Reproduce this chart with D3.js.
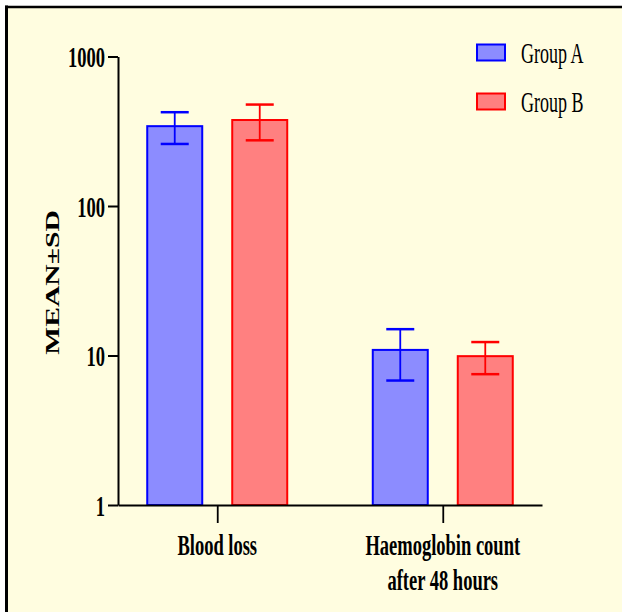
<!DOCTYPE html>
<html>
<head>
<meta charset="utf-8">
<script src="https://cdn.jsdelivr.net/npm/d3@7"></script>
<style>
  html, body { margin: 0; padding: 0; background: #ffffff; }
  svg { display: block; }
</style>
</head>
<body>
<svg id="chart" width="622" height="612"></svg>
<script>
// ---- data ----
const categories = ["Blood loss", "Haemoglobin count\nafter 48 hours"];
const groups = ["Group A", "Group B"];
const meansA = [342, 10.9];
const sdA = [82, 4.1];
const meansB = [376, 9.9];
const sdB = [101, 2.4];
const yTicks = [1, 10, 100, 1000];
const yTitle = "MEAN±SD";

const fills = { "Group A": "#8c8cff", "Group B": "#ff8080" };
const strokes = { "Group A": "#0000ff", "Group B": "#ff0000" };

const svg = d3.select("#chart");
const SY = 1.6;          // vertical stretch of text
const FONT = "'Liberation Serif', 'Times New Roman', serif";

// background & frame
svg.append("rect").attr("x", 5).attr("y", 6).attr("width", 617).attr("height", 606).attr("fill", "#fffde0");
svg.append("line").attr("x1", 6.5).attr("x2", 6.5).attr("y1", 5.5).attr("y2", 612).attr("stroke", "#000").attr("stroke-width", 3);
svg.append("line").attr("x1", 5).attr("x2", 622).attr("y1", 7).attr("y2", 7).attr("stroke", "#000").attr("stroke-width", 2.5);

// scales
const x0 = d3.scalePoint().domain(categories).range([118, 542]).padding(0.44);
const x1 = d3.scaleBand().domain(groups).range([-70, 70]).paddingInner(0.353);
const y = d3.scaleLog().domain([1, 1000]).range([505, 56.5]);

// rows
const rows = [];
categories.forEach((c, i) => {
  rows.push({ cat: c, grp: "Group A", mean: meansA[i], sd: sdA[i] });
  rows.push({ cat: c, grp: "Group B", mean: meansB[i], sd: sdB[i] });
});

// bars
svg.append("g").selectAll("rect").data(rows).join("rect")
  .attr("x", d => x0(d.cat) + x1(d.grp))
  .attr("width", x1.bandwidth())
  .attr("y", d => y(d.mean))
  .attr("height", d => y(1) - y(d.mean))
  .attr("fill", d => fills[d.grp])
  .attr("stroke", d => strokes[d.grp])
  .attr("stroke-width", 2);

// error bars
const eb = svg.append("g").selectAll("g").data(rows).join("g")
  .attr("stroke", d => strokes[d.grp]);
const cx = d => x0(d.cat) + x1(d.grp) + x1.bandwidth() / 2;
eb.append("line")
  .attr("x1", cx).attr("x2", cx)
  .attr("y1", d => y(d.mean + d.sd)).attr("y2", d => y(d.mean - d.sd))
  .attr("stroke-width", 1.8);
eb.append("line")
  .attr("x1", d => cx(d) - 14).attr("x2", d => cx(d) + 14)
  .attr("y1", d => y(d.mean + d.sd)).attr("y2", d => y(d.mean + d.sd))
  .attr("stroke-width", 2.5);
eb.append("line")
  .attr("x1", d => cx(d) - 14).attr("x2", d => cx(d) + 14)
  .attr("y1", d => y(d.mean - d.sd)).attr("y2", d => y(d.mean - d.sd))
  .attr("stroke-width", 2.5);

// y axis
const yAxis = svg.append("g").attr("transform", "translate(118,0)")
  .call(d3.axisLeft(y).tickValues(yTicks).tickFormat(d3.format("d")).tickSize(10).tickSizeOuter(0).tickPadding(3));
yAxis.select(".domain").attr("stroke", "#000").attr("stroke-width", 2);
yAxis.selectAll(".tick line").attr("stroke", "#000").attr("stroke-width", 2);
yAxis.selectAll(".tick text")
  .attr("font-family", FONT).attr("font-weight", "bold").attr("font-size", 18.5)
  .attr("fill", "#000").attr("dy", "0.34em")
  .attr("transform", `scale(1,${SY})`);

// x axis
const xAxis = svg.append("g").attr("transform", `translate(0,${y(1)})`)
  .call(d3.axisBottom(x0).tickSize(18).tickSizeOuter(0).tickFormat(""));
xAxis.select(".domain").attr("stroke", "#000").attr("stroke-width", 2);
xAxis.selectAll(".tick line").attr("stroke", "#000").attr("stroke-width", 1.8);

// category labels
categories.forEach(c => {
  c.split("\n").forEach((line, j) => {
    svg.append("text")
      .attr("transform", `translate(${x0(c)},${555 + j * 35}) scale(1,${SY})`)
      .attr("text-anchor", "middle")
      .attr("font-family", FONT).attr("font-weight", "bold").attr("font-size", 18.5)
      .attr("fill", "#000")
      .text(line);
  });
});

// y title
svg.append("text")
  .attr("transform", "translate(52.7,282.5) rotate(-90) scale(1.56,1)")
  .attr("text-anchor", "middle").attr("dy", "0.33em")
  .attr("font-family", FONT).attr("font-weight", "bold").attr("font-size", 19)
  .attr("fill", "#000")
  .text(yTitle);

// legend
const leg = svg.append("g").selectAll("g").data(groups).join("g")
  .attr("transform", (d, i) => `translate(477,${44.5 + i * 49})`);
leg.append("rect").attr("width", 28).attr("height", 16)
  .attr("fill", d => fills[d]).attr("stroke", d => strokes[d]).attr("stroke-width", 2);
leg.append("text")
  .attr("transform", `translate(44,18.5) scale(1,${SY})`)
  .attr("font-family", FONT).attr("font-size", 18)
  .attr("fill", "#000")
  .text(d => d);
</script>
</body>
</html>
